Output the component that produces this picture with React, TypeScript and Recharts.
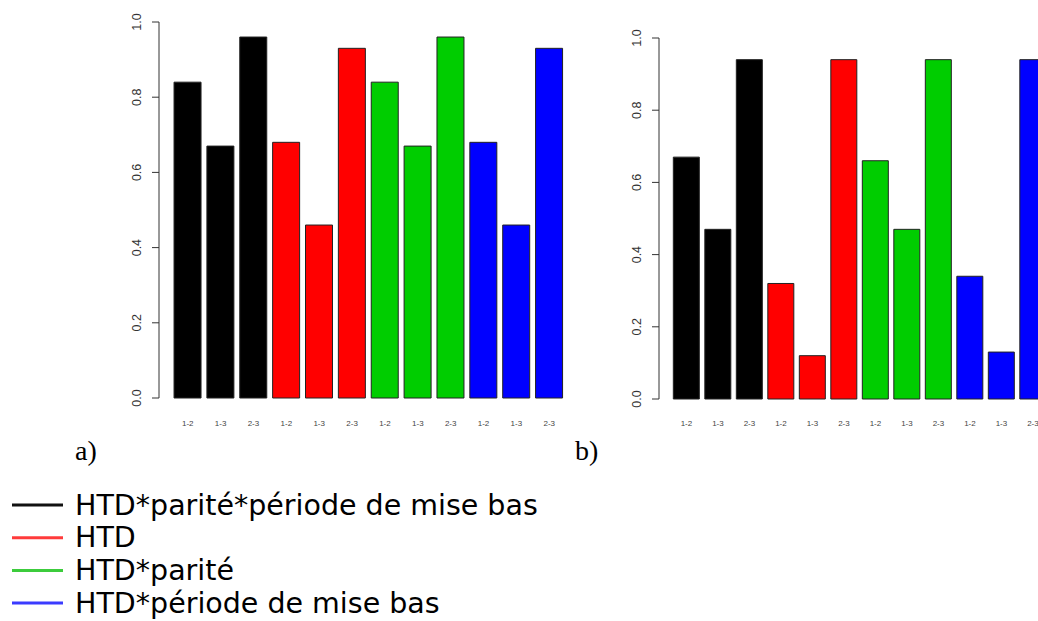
import React from "react";
import { BarChart, Bar, XAxis, YAxis, Cell } from "recharts";

// comparisons shown under each bar
const pairs = ["1-2", "1-3", "2-3"];
// model groups, in bar and legend order
const models = ["HTD*parité*période de mise bas", "HTD", "HTD*parité", "HTD*période de mise bas"];
const barColors = ["#000000", "#ff0000", "#00cd00", "#0000ff"];
const legendColors = ["#111111", "#ff3b3b", "#3ccc3c", "#3b3bff"];

// panel a)
const valuesA = [0.84, 0.67, 0.96, 0.68, 0.46, 0.93, 0.84, 0.67, 0.96, 0.68, 0.46, 0.93];
// panel b)
const valuesB = [0.67, 0.47, 0.94, 0.32, 0.12, 0.94, 0.66, 0.47, 0.94, 0.34, 0.13, 0.94];

const yTicks = [0, 0.2, 0.4, 0.6, 0.8, 1];

const buildRows = (values: number[]) =>
  values.map((v, i) => ({
    id: `${Math.floor(i / 3)}-${pairs[i % 3]}`,
    pair: pairs[i % 3],
    group: Math.floor(i / 3),
    value: v,
  }));

const YTick = (props: any) => {
  const { x, y, payload } = props;
  const cx = x - 13;
  return (
    <text
      x={cx}
      y={y}
      transform={`rotate(-90 ${cx} ${y})`}
      textAnchor="middle"
      dominantBaseline="central"
      fontSize={12.5}
      fontFamily="'Liberation Sans', Arial, sans-serif"
      fill="#333"
    >
      {Number(payload.value).toFixed(1)}
    </text>
  );
};

const makeXTick = (rows: any[], offset: number) => (props: any) => {
  const { x, y, index } = props;
  return (
    <text
      x={x}
      y={y + offset}
      textAnchor="middle"
      dominantBaseline="central"
      fontSize={8}
      fontFamily="'Liberation Sans', Arial, sans-serif"
      fill="#444"
    >
      {rows[index] ? rows[index].pair : ""}
    </text>
  );
};

type PanelProps = {
  values: number[];
  width: number;
  height: number;
  top: number;
  right: number;
  xHeight: number;
  padLeft: number;
  labelOffset: number;
};

const Panel = ({ values, width, height, top, right, xHeight, padLeft, labelOffset }: PanelProps) => {
  const rows = buildRows(values);
  return (
    <BarChart
      width={width}
      height={height}
      data={rows}
      margin={{ top, right, bottom: 0, left: 0 }}
      barCategoryGap="8.33%"
    >
      <XAxis
        dataKey="id"
        height={xHeight}
        axisLine={false}
        tickLine={false}
        tickSize={0}
        tickMargin={0}
        interval={0}
        padding={{ left: padLeft, right: 0 }}
        tick={makeXTick(rows, labelOffset)}
      />
      <YAxis
        width={159}
        domain={[0, 1]}
        ticks={yTicks}
        tickSize={7}
        tickMargin={2}
        axisLine={{ stroke: "#333" }}
        tickLine={{ stroke: "#333" }}
        tick={<YTick />}
      />
      <Bar dataKey="value" stroke="#222" strokeWidth={1} isAnimationActive={false}>
        {rows.map((r) => (
          <Cell key={r.id} fill={barColors[r.group]} />
        ))}
      </Bar>
    </BarChart>
  );
};

export default function App() {
  return (
    <div
      style={{
        position: "fixed",
        left: 0,
        top: 0,
        width: 1038,
        height: 621,
        overflow: "hidden",
        background: "#fff",
      }}
    >
      <div style={{ position: "absolute", left: 0, top: 0 }}>
        <Panel values={valuesA} width={600} height={440} top={22} right={34.3} xHeight={42} padLeft={12.3} labelOffset={25} />
      </div>
      <div style={{ position: "absolute", left: 500, top: 0 }}>
        <Panel values={valuesB} width={560} height={440} top={38} right={11.3} xHeight={41} padLeft={11.7} labelOffset={24} />
      </div>
      <svg width={1038} height={621} style={{ position: "absolute", left: 0, top: 0, pointerEvents: "none" }}>
        <text x={75} y={460} fontSize={28} fontFamily="'Liberation Serif', 'Times New Roman', serif" fill="#000">
          a)
        </text>
        <text x={575} y={460} fontSize={28} fontFamily="'Liberation Serif', 'Times New Roman', serif" fill="#000">
          b)
        </text>
        {models.map((m, i) => {
          const cy = 505 + i * 32.7;
          return (
            <g key={m}>
              <line x1={12} x2={63} y1={cy} y2={cy} stroke={legendColors[i]} strokeWidth={3} />
              <text
                x={75}
                y={cy}
                dominantBaseline="central"
                fontSize={28.5}
                fontFamily="'DejaVu Sans', Verdana, sans-serif"
                fill="#000"
              >
                {m}
              </text>
            </g>
          );
        })}
      </svg>
    </div>
  );
}
